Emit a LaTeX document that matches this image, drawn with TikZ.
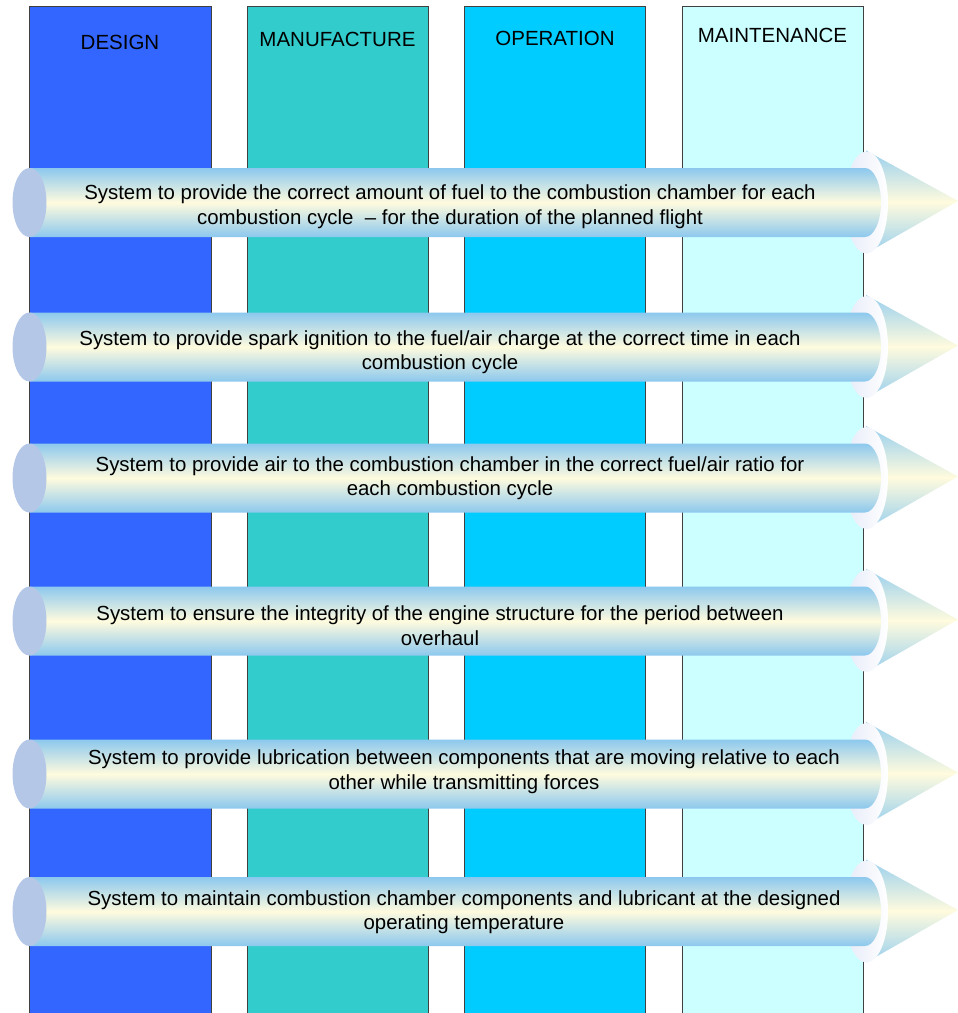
\documentclass[tikz,border=0pt]{standalone}
\usepackage{fontspec}
\setmainfont{Liberation Sans}

\definecolor{designblue}{HTML}{3366FF}
\definecolor{manufteal}{HTML}{33CCCC}
\definecolor{operblue}{HTML}{00CCFF}
\definecolor{maintcyan}{HTML}{CCFFFF}
\definecolor{tubeblue}{HTML}{8CC8EE}
\definecolor{tubecream}{HTML}{FFFBDE}
\definecolor{capblue}{HTML}{B4C7E7}
\definecolor{ringtint}{HTML}{E6EBF8}
\definecolor{coneblue}{HTML}{98CFEE}

\tikzset{
  phase/.style={draw=black!75, line width=0.7pt},
  phaselabel/.style={font=\fontsize{20.5}{24}\selectfont, inner sep=0pt, text depth=0pt},
  tubelabel/.style={font=\fontsize{20.4}{24.8}\selectfont, align=center, inner sep=0pt},
}

% One system arrow: #1 centre line y, #2 label name, #3 label x, #4 label y, #5 label text
\newcommand\systemarrow[5]{%
  \begin{scope}[shift={(0,#1)}]
    % arrow head (cone)
    \shade[top color=coneblue, bottom color=coneblue, middle color=tubecream]
      (866,-52) -- (958,-1.5) -- (866,51) -- cycle;
    % collar ring
    \shade[left color=ringtint, right color=white]
      (866.5,0) ellipse [x radius=21.5, y radius=51];
    % tube body with rounded front end
    \shade[top color=tubeblue, bottom color=tubeblue, middle color=tubecream]
      (29.5,-34.5) -- (865,-34.5)
      arc[start angle=-90, end angle=90, x radius=16, y radius=34.5]
      -- (29.5,34.5) -- cycle;
    % rear cap
    \fill[capblue] (29.5,0) ellipse [x radius=17, y radius=34.5];
  \end{scope}
  \node[tubelabel] (#2) at (#3,#4) {#5};
}

\begin{document}
\begin{tikzpicture}[x=1pt,y=-1pt]
  \useasboundingbox (0,0) rectangle (958,1013);
  \begin{scope}
    \clip (0,0) rectangle (958,1013);

    % lifecycle phase columns
    \draw[phase, fill=designblue] (29.5,6.5) rectangle (211,1020);
    \draw[phase, fill=manufteal]  (247.5,6.5) rectangle (428.5,1020);
    \draw[phase, fill=operblue]   (464.5,6.5) rectangle (645.5,1020);
    \draw[phase, fill=maintcyan]  (682.5,6.5) rectangle (863.5,1020);

    \node[phaselabel] (design)      at (120,42)  {DESIGN};
    \node[phaselabel] (manufacture) at (337.5,39) {MANUFACTURE};
    \node[phaselabel] (operation)   at (555,38)  {OPERATION};
    \node[phaselabel] (maintenance) at (772.5,35) {MAINTENANCE};

    % engine systems
    \systemarrow{202.5}{fuel}{450}{206.8}{System to provide the correct amount of fuel to the combustion chamber for each\\combustion cycle \ – for the duration of the planned flight}
    \systemarrow{347}{ignition}{440}{352.3}{System to provide spark ignition to the fuel/air charge at the correct time in each\\combustion cycle}
    \systemarrow{478}{air}{450}{478.3}{System to provide air to the combustion chamber in the correct fuel/air ratio for\\each combustion cycle}
    \systemarrow{621}{structure}{440}{625.5}{System to ensure the integrity of the engine structure for the period between\\overhaul}
    \systemarrow{774}{lubrication}{464}{771.8}{System to provide lubrication between components that are moving relative to each\\other while transmitting forces}
    \systemarrow{911.5}{cooling}{464}{912.3}{System to maintain combustion chamber components and lubricant at the designed\\operating temperature}
  \end{scope}
\end{tikzpicture}
\end{document}
